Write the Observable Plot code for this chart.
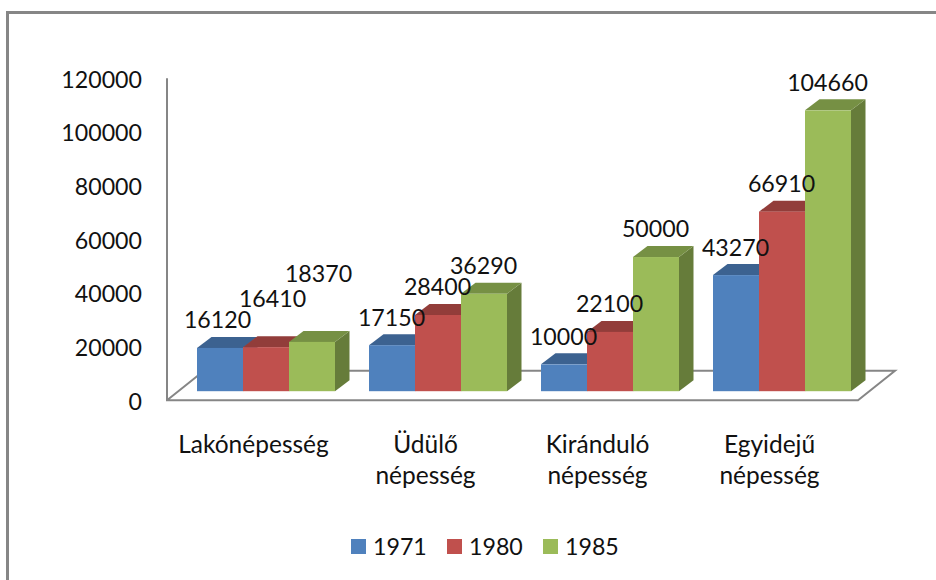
<!DOCTYPE html>
<html><head><meta charset="utf-8">
<script src="https://cdn.jsdelivr.net/npm/d3@7"></script>
<script src="https://cdn.jsdelivr.net/npm/@observablehq/plot@0.6"></script>
<style>
html,body{margin:0;padding:0;background:#fff;overflow:hidden}
#wrap{position:relative;width:936px;height:580px;overflow:hidden}
#frame{position:absolute;left:6px;top:11px;width:960px;height:620px;border:3px solid #868686;box-sizing:border-box}
#chart{position:absolute;left:0;top:0}
#legend{position:absolute;left:351px;top:531px;height:30px;display:flex;align-items:center;font:23.2px Lato,sans-serif;color:#111}
#legend span.s{display:inline-block;width:15px;height:15px;margin-right:7px}
#legend span.l{display:inline-block;width:74px}
</style></head><body>
<div id="wrap"><div id="frame"></div><div id="chart"></div><div id="legend"></div></div>
<script>
const categories = ["Lakónépesség","Üdülő\nnépesség","Kiránduló\nnépesség","Egyidejű\nnépesség"];
const years = ["1971","1980","1985"];
const v1971 = [16120,17150,10000,43270];
const v1980 = [16410,28400,22100,66910];
const v1985 = [18370,36290,50000,104660];
const colors = ["#4f81bd","#c0504d","#9bbb59"];
const topColors = ["#3c6290","#923d3a","#769044"];
const sideColors = ["#35567f","#813634","#667c3a"];
const yTicks = [0,20000,40000,60000,80000,100000,120000];
const font = "Lato, sans-serif";

const rows = [];
categories.forEach((c,i)=>{[v1971,v1980,v1985].forEach((s,j)=>rows.push({cat:c,year:years[j],value:s[i]}));});
const depthX = 14.5, depthY = 11;
const mLeft = 178, mRight = 67;

function faces(index, scales, values, dim, ctx, next){
  const g = next(index, scales, values, dim, ctx);
  const rects = g.querySelectorAll("rect");
  Array.from(index).forEach((i,k)=>{
    const r = rects[k], j = years.indexOf(rows[i].year);
    const x0 = +r.getAttribute("x"), x1 = x0 + (+r.getAttribute("width"));
    const y1 = +r.getAttribute("y"), y0 = y1 + (+r.getAttribute("height"));
    const mk = (pts,fill)=>{
      const p = document.createElementNS("http://www.w3.org/2000/svg","polygon");
      p.setAttribute("points",pts.map(a=>a.join(",")).join(" "));
      p.setAttribute("fill",fill);
      r.parentNode.insertBefore(p,r);
    };
    mk([[x1,y0],[x1+depthX,y0-depthY],[x1+depthX,y1-depthY],[x1,y1]],sideColors[j]);
    mk([[x0,y1],[x0+depthX,y1-depthY],[x1+depthX,y1-depthY],[x1,y1]],topColors[j]);
  });
  return g;
}
function floor(index, scales, values, dim){
  const y0 = scales.y(0)+9, l = mLeft-11, r = 936-mRight-11;
  const yTop = scales.y(120000)+9;
  const p = document.createElementNS("http://www.w3.org/2000/svg","path");
  p.setAttribute("d",`M${l},${yTop}V${y0}H${r}L${r+37},${y0-29.5}H${l+37}L${l},${y0}`);
  p.setAttribute("fill","none");p.setAttribute("stroke","#868686");p.setAttribute("stroke-width",2);
  const g = document.createElementNS("http://www.w3.org/2000/svg","g");g.appendChild(p);
  return g;
}
const labelOpts = {x:"year",y:"value",fx:"cat",text:d=>String(d.value),fill:"#111",fontSize:23.2,lineAnchor:"middle"};
const moved = {16120:[-3,-27.5],16410:[6,-48.5],18370:[6,-67.5]};
const plain = rows.filter(d=>!moved[d.value]);

const plot = Plot.plot({
  width:936,height:580,
  marginLeft:mLeft,marginRight:mRight,marginTop:69.2,marginBottom:188.8,
  style:{fontFamily:font,background:"transparent",overflow:"visible"},
  x:{domain:years,padding:0,axis:null,label:null},
  fx:{domain:categories,paddingInner:0.2,paddingOuter:0.1,label:null,axis:null},
  y:{domain:[0,120000],label:null,axis:null},
  color:{domain:years,range:colors},
  marks:[
    Plot.frame({facet:"super",stroke:"none",render:floor}),
    Plot.axisY(yTicks,{anchor:"left",tickSize:0,tickPadding:0,dx:-55.5,dy:10.5,fontSize:23.2,fill:"#111",label:null,tickFormat:d=>String(d)}),
    Plot.axisFx({anchor:"bottom",tickSize:0,dx:-13,dy:30,fontSize:24.5,fill:"#111",lineHeight:1.27,label:null,tickFormat:d=>d}),
    Plot.barY(rows,{x:"year",y:"value",fx:"cat",fill:"year",render:faces}),
    Plot.text(plain,{...labelOpts,dy:-27.5,dx:-1}),
    ...Object.entries(moved).map(([k,[dx,dy]])=>Plot.text(rows.filter(d=>d.value==k),{...labelOpts,dx,dy}))
  ]
});
document.getElementById("chart").appendChild(plot);
const lg = document.getElementById("legend");
years.forEach((y,i)=>{
  lg.insertAdjacentHTML("beforeend",`<span class="s" style="background:${colors[i]}"></span><span class="l">${y}</span>`);
});
</script></body></html>
